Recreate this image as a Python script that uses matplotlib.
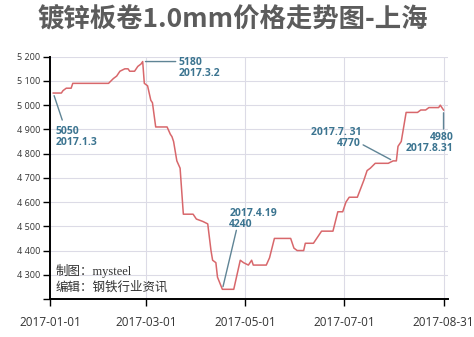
import matplotlib
matplotlib.use("Agg")
import matplotlib.pyplot as plt
import matplotlib.dates as mdates
from matplotlib.ticker import FuncFormatter, MultipleLocator
import pandas as pd

plt.rcParams['font.family'] = ['Open Sans', 'Noto Sans CJK SC', 'DejaVu Sans']

# 读图得到的价格 (元/吨)
dates = [
    '2017-01-03', '2017-01-08', '2017-01-09', '2017-01-11', '2017-01-14', '2017-01-15',
    '2017-02-06', '2017-02-09', '2017-02-11', '2017-02-13', '2017-02-16', '2017-02-18',
    '2017-02-19', '2017-02-22', '2017-02-24', '2017-02-26', '2017-02-27', '2017-02-28',
    '2017-03-02', '2017-03-04', '2017-03-05', '2017-03-07', '2017-03-14', '2017-03-16',
    '2017-03-17', '2017-03-18', '2017-03-20', '2017-03-22', '2017-03-24', '2017-03-30',
    '2017-04-01', '2017-04-05', '2017-04-08', '2017-04-10', '2017-04-11', '2017-04-13',
    '2017-04-14', '2017-04-17', '2017-04-24', '2017-04-26', '2017-04-28', '2017-04-30',
    '2017-05-03', '2017-05-05', '2017-05-06', '2017-05-14', '2017-05-16', '2017-05-19',
    '2017-05-29', '2017-05-31', '2017-06-02', '2017-06-06', '2017-06-07', '2017-06-12',
    '2017-06-17', '2017-06-24', '2017-06-27', '2017-06-30', '2017-07-02', '2017-07-04',
    '2017-07-09', '2017-07-13', '2017-07-15', '2017-07-17', '2017-07-20', '2017-07-28',
    '2017-07-31', '2017-08-02', '2017-08-03', '2017-08-05', '2017-08-08', '2017-08-15',
    '2017-08-17', '2017-08-20', '2017-08-22', '2017-08-28', '2017-08-29', '2017-08-31',
]
prices = [
    5050, 5050, 5060, 5070, 5070, 5090,
    5090, 5110, 5120, 5140, 5150, 5150,
    5140, 5140, 5160, 5170, 5180, 5090,
    5080, 5020, 5010, 4910, 4910, 4880,
    4870, 4850, 4770, 4740, 4550, 4550,
    4530, 4520, 4510, 4400, 4360, 4350,
    4290, 4240, 4240, 4300, 4360, 4350,
    4340, 4360, 4340, 4340, 4370, 4450,
    4450, 4410, 4400, 4400, 4430, 4430,
    4480, 4480, 4560, 4560, 4600, 4620,
    4620, 4690, 4730, 4740, 4760, 4760,
    4770, 4770, 4830, 4850, 4970, 4970,
    4980, 4980, 4990, 4990, 5000, 4980,
]
tick_dates = ['2017-01-01', '2017-03-01', '2017-05-01', '2017-07-01', '2017-08-31']

# 标注: (日期, 文字, 引线终点偏移px, 文字偏移px, 水平对齐)
notes = [
    ('2017-01-03', '5050\n2017.1.3', (9, -27), (2, -33), 'left'),
    ('2017-02-27', '5180\n2017.3.2', (33, 0), (36, 5), 'left'),
    ('2017-04-17', '2017.4.19\n4240', (14, 59), (7, 81), 'left'),
    ('2017-07-31', '2017.7. 31\n4770', (-30, 16), (-32, 34), 'right'),
    ('2017-08-31', '4980\n2017.8.31', (0, -19), (10, -22), 'right'),
]

x = pd.to_datetime(dates)
fig = plt.figure(figsize=(4.74, 3.37), dpi=100)
ax = fig.add_axes([50 / 474, 1 - 299 / 337, 398 / 474, (299 - 56.7) / 337])

ax.plot(x, prices, color='#d8676b', lw=1.1, zorder=3)

ax.set_ylim(4200, 5200)
ax.set_xlim(pd.Timestamp('2017-01-01'), pd.Timestamp('2017-09-02 18:00'))
ax.yaxis.set_major_locator(MultipleLocator(100))
ax.yaxis.set_major_formatter(FuncFormatter(
    lambda v, p: '' if v <= 4200 else f'{v:,.0f}'.replace(',', ' ')))
ax.set_xticks(pd.to_datetime(tick_dates))
ax.xaxis.set_major_formatter(mdates.DateFormatter('%Y-%m-%d'))

ax.grid(True, color='#dcdbe6', lw=0.8)
ax.set_axisbelow(True)
for s in ['top', 'right']:
    ax.spines[s].set_visible(False)
for s in ['left', 'bottom']:
    ax.spines[s].set_linewidth(1.4)
    ax.spines[s].set_color('black')
ax.tick_params(axis='y', length=5, width=1, pad=2, labelsize=6.5, labelcolor='#333333')
ax.tick_params(axis='x', length=5, width=1, pad=7, labelsize=8.5, labelcolor='#333333')

for d, txt, lend, toff, ha in notes:
    pt = (pd.Timestamp(d), prices[dates.index(d)])
    ax.annotate('', xy=pt, xytext=lend, textcoords='offset pixels',
                arrowprops=dict(arrowstyle='-', color='#5f8495', lw=1.0,
                                shrinkA=0, shrinkB=2), zorder=4)
    ax.annotate(txt, xy=pt, xytext=toff, textcoords='offset pixels',
                ha=ha, va='top', fontsize=7.5, fontweight='bold',
                color='#3b7490', linespacing=1.0, zorder=5)

fig.text(0.49, 1 - 20 / 337, '镀锌板卷1.0mm价格走势图-上海', ha='center', va='center',
         fontsize=19, fontweight='bold', color='#5c5c5c',
         family=['Noto Sans CJK SC', 'DejaVu Sans'])
fig.text(56 / 474, 1 - 271 / 337, '制图：mysteel', ha='left', va='center',
         fontsize=9, color='#333333', family=['Liberation Serif', 'Noto Sans CJK SC'])
fig.text(56 / 474, 1 - 287 / 337, '编辑：钢铁行业资讯', ha='left', va='center',
         fontsize=9, color='#333333', family=['Liberation Serif', 'Noto Sans CJK SC'])

fig.savefig('out.png', dpi=100)
